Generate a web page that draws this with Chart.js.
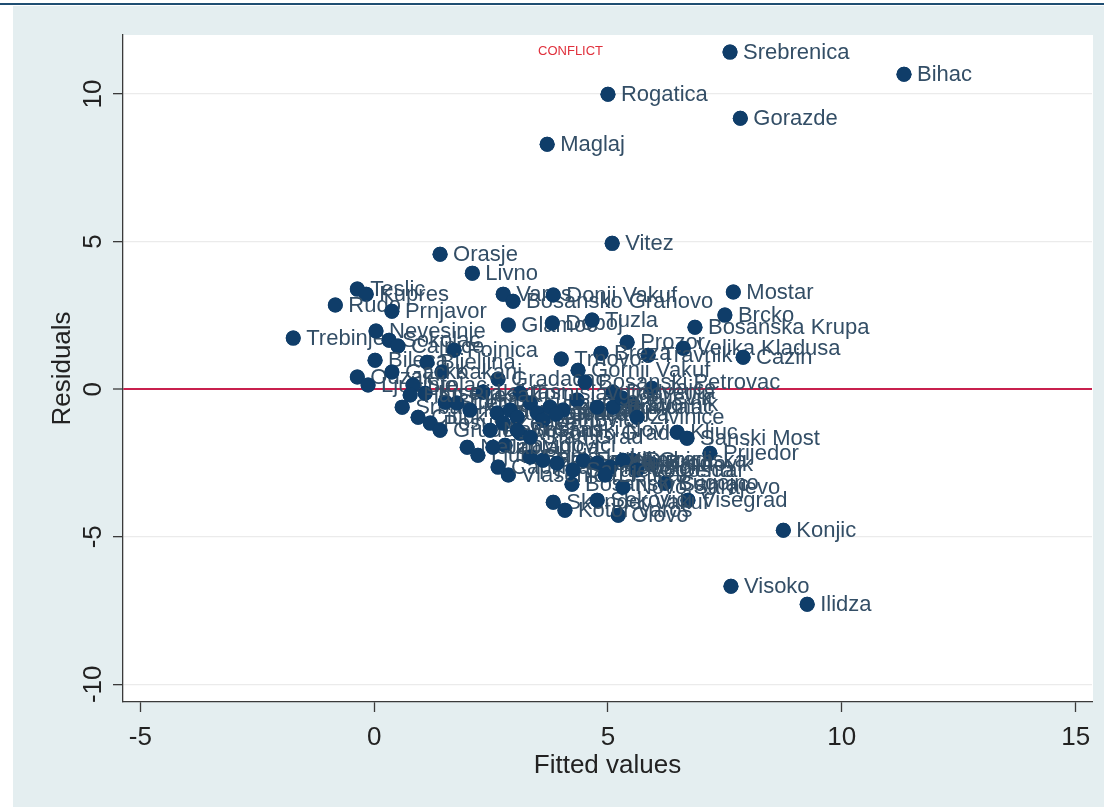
<!DOCTYPE html>
<html>
<head>
<meta charset="utf-8">
<script src="https://cdn.jsdelivr.net/npm/chart.js@4.4.1/dist/chart.umd.min.js"></script>
<style>
  html, body { margin: 0; padding: 0; background: #ffffff; }
  #wrap { width: 1104px; height: 810px; position: relative; }
  canvas { display: block; }
</style>
</head>
<body>
<div id="wrap"><canvas id="chart" width="1104" height="810"></canvas></div>
<script>
// Municipalities with their fitted values and regression residuals
const municipalities = [
  'Srebrenica','Bihac','Rogatica','Gorazde','Maglaj','Vitez','Orasje','Livno',
  'Teslic','Kupres','Rudo','Prnjavor','Trebinje','Nevesinje','Sokolac','Cajnice',
  'Fojnica','Bileca','Bijeljina','Vares','Bosansko Grahovo','Donji Vakuf','Glamoc','Doboj',
  'Tuzla','Prozor','Mostar','Brcko','Bosanska Krupa','Velika Kladusa','Cazin','Travnik',
  'Breza','Trnovo','Gornji Vakuf','Gradacac','Jajce','Derventa','Zvornik','Kljuc',
  'Sanski Most','Prijedor','Dubica','Kalinovik','Bugojno','Visegrad','Olovo','Konjic',
  'Visoko','Ilidza','Skender Vakuf','Kotor Varos','Sekovici','Bosanski Samac','Vlasenica','Mrkonjic Grad',
  'Zavidovici','Odzak','Ljubinje','Kakanj','Srbac','Kiseljak','Gacko','Stolac',
  'Citluk','Posusje','Grude','Sipovo','Neum','Ljubuski','Capljina','Laktasi',
  'Celinac','Kresevo','Busovaca','Novi Travnik','Zepce','Tesanj','Lukavac','Kalesija',
  'Zenica','Banovici','Kladanj','Lopare','Gracanica','Modrica','Bratunac','Ugljevik',
  'Zivinice','Novi Grad','Bosanski Novi','Banja Luka','Bosanska Gradiska','Bosanski Brod','Foca','Pale',
  'Hadzici','Ilijas','Vogosca','Novo Sarajevo','Jablanica','Stari Grad','Sarajevo Centar','Tomislavgrad',
  'Listica','Han Pijesak','Bosanski Petrovac'
];

const fittedValues = [
  7.61, 11.33, 5.00, 7.83, 3.70, 5.09, 1.41, 2.10,
  -0.36, -0.17, -0.83, 0.38, -1.73, 0.04, 0.32, 0.51,
  1.71, 0.02, 1.13, 2.76, 2.97, 3.83, 2.87, 3.81,
  4.66, 5.41, 7.68, 7.50, 6.86, 6.61, 7.89, 5.86,
  4.85, 4.00, 4.36, 2.65, 5.94, 5.11, 5.54, 6.48,
  6.69, 7.18, 5.52, 5.94, 6.22, 6.71, 5.22, 8.75,
  7.63, 9.26, 3.83, 4.08, 4.77, 4.23, 2.87, 3.12,
  2.80, -0.36, -0.13, 1.45, 0.60, 1.09, 0.38, 0.83,
  0.94, 1.20, 1.41, 1.52, 1.99, 2.22, 2.65, 2.33,
  1.77, 2.05, 2.63, 2.91, 2.76, 3.06, 3.34, 3.49,
  3.76, 3.61, 4.04, 4.34, 3.89, 4.77, 5.11, 5.30,
  5.62, 2.48, 3.06, 3.34, 3.61, 3.91, 4.47, 4.77,
  5.05, 5.32, 5.62, 5.32, 2.54, 3.34, 4.25, 3.12,
  4.94, 0.77, 4.51
];

const residuals = [
  11.42, 10.67, 9.99, 9.18, 8.30, 4.94, 4.57, 3.93,
  3.39, 3.22, 2.85, 2.64, 1.73, 1.97, 1.66, 1.46,
  1.32, 0.98, 0.91, 3.22, 2.98, 3.19, 2.17, 2.24,
  2.34, 1.59, 3.29, 2.51, 2.10, 1.39, 1.08, 1.15,
  1.22, 1.02, 0.64, 0.34, 0.03, -0.10, -0.51, -1.46,
  -1.66, -2.17, -2.41, -2.54, -3.19, -3.76, -4.27, -4.78,
  -6.68, -7.29, -3.83, -4.10, -3.76, -3.22, -2.91, -1.49,
  -1.90, 0.41, 0.14, 0.58, -0.61, -0.14, 0.58, 0.14,
  -0.95, -1.15, -1.39, -0.44, -1.97, -2.24, -2.64, -0.10,
  -0.47, -0.71, -0.81, -0.71, -1.15, -0.95, -0.47, -0.81,
  -0.61, -1.05, -0.71, -0.37, -0.85, -0.61, -0.61, -0.30,
  -0.95, -1.39, -1.39, -2.30, -2.41, -2.51, -2.41, -2.51,
  -2.64, -2.41, -2.74, -3.32, -1.97, -1.63, -2.74, -0.14,
  -2.91, -0.20, 0.24
];

const xTickValues = [-5, 0, 5, 10, 15];
const yTickValues = [-10, -5, 0, 5, 10];

const conflictNote = { text: 'CONFLICT', x: 4.2, y: 11.45 };

const FONT = '"Liberation Sans", Arial, Helvetica, sans-serif';
const MARKER = '#0f3d69';
const LABEL = '#334e66';

// Graph region backdrop: pale frame, top rule and white plot area
const backdrop = {
  id: 'backdrop',
  beforeDraw(chart) {
    const { ctx, chartArea: a } = chart;
    ctx.save();
    ctx.fillStyle = '#ffffff';
    ctx.fillRect(0, 0, chart.width, chart.height);
    ctx.fillStyle = '#e4eef0';
    ctx.fillRect(13, 6, chart.width - 13, chart.height - 9);
    ctx.fillStyle = '#1f4e72';
    ctx.fillRect(0, 3, chart.width, 2);
    ctx.fillStyle = '#ffffff';
    ctx.fillRect(a.left, a.top, a.right - a.left + 1, a.bottom - a.top);
    ctx.restore();
  }
};

// Marker labels, drawn observation by observation, plus the red note
const markerLabels = {
  id: 'markerLabels',
  afterDatasetsDraw(chart) {
    const { ctx, chartArea } = chart;
    const meta = chart.getDatasetMeta(0);
    ctx.save();
    ctx.font = '22px ' + FONT;
    ctx.textBaseline = 'middle';
    ctx.textAlign = 'left';
    meta.data.forEach((pt, i) => {
      pt.draw(ctx, chartArea);
      ctx.fillStyle = LABEL;
      ctx.fillText(municipalities[i], pt.x + 13, pt.y + 1);
    });
    const xs = chart.scales.x, ys = chart.scales.y;
    ctx.font = '13px ' + FONT;
    ctx.fillStyle = '#e0303c';
    ctx.textAlign = 'center';
    ctx.fillText(conflictNote.text, xs.getPixelForValue(conflictNote.x), ys.getPixelForValue(conflictNote.y));
    ctx.restore();
  }
};

new Chart(document.getElementById('chart'), {
  type: 'scatter',
  data: {
    datasets: [{
      data: fittedValues.map((x, i) => ({ x: x, y: residuals[i] })),
      backgroundColor: MARKER,
      borderColor: MARKER,
      borderWidth: 0,
      pointRadius: 7.5,
      pointHoverRadius: 7.5
    }]
  },
  options: {
    responsive: false,
    animation: false,
    devicePixelRatio: 1,
    layout: { padding: { top: 35, right: 12, left: 0, bottom: 0 } },
    plugins: { legend: { display: false }, tooltip: { enabled: false } },
    events: [],
    scales: {
      x: {
        type: 'linear',
        min: -5.37,
        max: 15.35,
        afterBuildTicks: s => { s.ticks = xTickValues.map(v => ({ value: v })); },
        afterFit: s => { s.height = 108; },
        grid: { drawOnChartArea: false, drawTicks: true, tickLength: 10, tickColor: '#3a3a3a', tickWidth: 1.3 },
        border: { display: true, color: '#3a3a3a', width: 1.3 },
        ticks: { font: { size: 26, family: FONT }, color: '#222222', padding: 10, maxRotation: 0, minRotation: 0 },
        title: { display: true, text: 'Fitted values', font: { size: 26, family: FONT }, color: '#222222', padding: { top: 0, bottom: 29 } }
      },
      y: {
        type: 'linear',
        min: -10.6,
        max: 12.0,
        afterBuildTicks: s => { s.ticks = yTickValues.map(v => ({ value: v })); },
        afterFit: s => { s.width = 123; },
        grid: {
          drawOnChartArea: true,
          drawTicks: true,
          tickLength: 10,
          tickColor: '#3a3a3a',
          tickWidth: 1.3,
          color: c => (c.tick && c.tick.value === 0) ? '#c8204e' : '#ebebeb',
          lineWidth: c => (c.tick && c.tick.value === 0) ? 2 : 1.3
        },
        border: { display: true, color: '#3a3a3a', width: 1.3 },
        ticks: { font: { size: 26, family: FONT }, color: '#222222', padding: 0, minRotation: 90, maxRotation: 90, crossAlign: 'center' },
        title: { display: true, text: 'Residuals', font: { size: 26, family: FONT }, color: '#222222', padding: { top: 47, bottom: 0 } }
      }
    }
  },
  plugins: [backdrop, markerLabels]
});
</script>
</body>
</html>
